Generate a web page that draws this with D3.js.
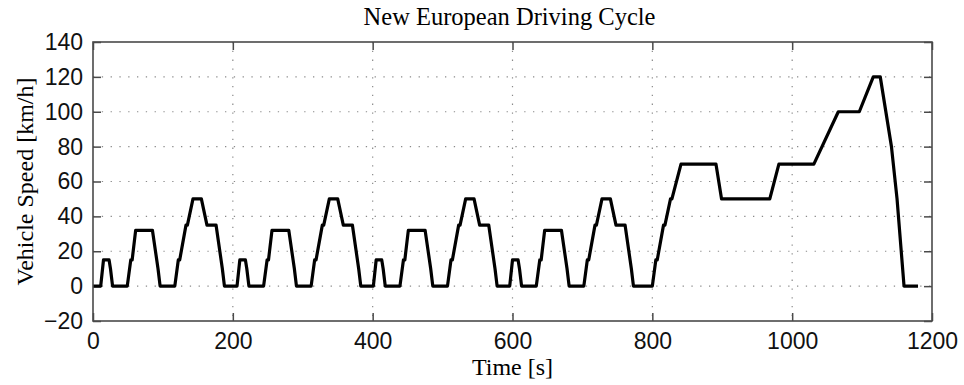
<!DOCTYPE html>
<html>
<head>
<meta charset="utf-8">
<script src="https://cdn.jsdelivr.net/npm/d3@7"></script>
<style>
  html, body { margin: 0; padding: 0; background: #fff; }
  svg { display: block; }
</style>
</head>
<body>
<svg id="chart" width="964" height="385"></svg>
<script>
// NEDC speed profile: four urban ECE-15 cycles followed by the extra-urban EUDC part
const timeS = [
  0, 11, 15, 23, 25, 28, 49, 54, 56, 61, 85, 93, 96, 117, 122, 124, 133, 135, 143, 155, 163, 176, 185, 188,
  195, 206, 210, 218, 220, 223, 244, 249, 251, 256, 280, 288, 291, 312, 317, 319, 328, 330, 338, 350, 358, 371, 380, 383,
  390, 401, 405, 413, 415, 418, 439, 444, 446, 451, 475, 483, 486, 507, 512, 514, 523, 525, 533, 545, 553, 566, 575, 578,
  585, 596, 600, 608, 610, 613, 634, 639, 641, 646, 670, 678, 681, 702, 707, 709, 718, 720, 728, 740, 748, 761, 770, 773,
  780, 800, 805, 807, 816, 818, 826, 828, 841, 891, 899, 968, 981, 1031, 1066, 1096, 1116, 1126, 1142, 1150, 1160, 1180
];
const speedKmh = [
  0, 0, 15, 15, 10, 0, 0, 15, 15, 32, 32, 10, 0, 0, 15, 15, 35, 35, 50, 50, 35, 35, 10, 0,
  0, 0, 15, 15, 10, 0, 0, 15, 15, 32, 32, 10, 0, 0, 15, 15, 35, 35, 50, 50, 35, 35, 10, 0,
  0, 0, 15, 15, 10, 0, 0, 15, 15, 32, 32, 10, 0, 0, 15, 15, 35, 35, 50, 50, 35, 35, 10, 0,
  0, 0, 15, 15, 10, 0, 0, 15, 15, 32, 32, 10, 0, 0, 15, 15, 35, 35, 50, 50, 35, 35, 10, 0,
  0, 0, 15, 15, 35, 35, 50, 50, 70, 70, 50, 50, 70, 70, 100, 100, 120, 120, 80, 50, 0, 0
];
const xTicks = [0, 200, 400, 600, 800, 1000, 1200];
const yTicks = [-20, 0, 20, 40, 60, 80, 100, 120, 140];

const W = 964, H = 385;
const margin = { top: 42, right: 32, bottom: 64, left: 93 };
const iw = W - margin.left - margin.right;
const ih = H - margin.top - margin.bottom;

const svg = d3.select("#chart");
const g = svg.append("g").attr("transform", `translate(${margin.left},${margin.top})`);

const x = d3.scaleLinear().domain([0, 1200]).range([0, iw]);
const y = d3.scaleLinear().domain([-20, 140]).range([ih, 0]);

const frameColor = "#4a4a4a";
const tickFont = "'Liberation Sans', Arial, Helvetica, sans-serif";
const serifFont = "'Liberation Serif', 'Times New Roman', Times, serif";

// dotted grid
g.append("g").selectAll("line.vg")
  .data(xTicks.filter(d => d > 0 && d < 1200))
  .join("line")
  .attr("x1", d => x(d)).attr("x2", d => x(d))
  .attr("y1", 0).attr("y2", ih)
  .attr("stroke", "#8a8a8a").attr("stroke-width", 1.2)
  .attr("stroke-dasharray", "1.3 7.5");
g.append("g").selectAll("line.hg")
  .data(yTicks.filter(d => d > -20 && d < 140))
  .join("line")
  .attr("x1", 0).attr("x2", iw)
  .attr("y1", d => y(d)).attr("y2", d => y(d))
  .attr("stroke", "#8a8a8a").attr("stroke-width", 1.2)
  .attr("stroke-dasharray", "1.3 7.5");

// axes with inward ticks on all four sides
const tickLen = 8;
const axB = g.append("g").attr("transform", `translate(0,${ih})`)
  .call(d3.axisBottom(x).tickValues(xTicks).tickSizeInner(-tickLen).tickSizeOuter(0).tickPadding(12)
    .tickFormat(d3.format("d")));
const axT = g.append("g")
  .call(d3.axisTop(x).tickValues(xTicks).tickSizeInner(-tickLen).tickSizeOuter(0).tickFormat(""));
const axL = g.append("g")
  .call(d3.axisLeft(y).tickValues(yTicks).tickSizeInner(-tickLen).tickSizeOuter(0).tickPadding(10)
    .tickFormat(d => d < 0 ? "\u2212" + Math.abs(d) : String(d)));
const axR = g.append("g").attr("transform", `translate(${iw},0)`)
  .call(d3.axisRight(y).tickValues(yTicks).tickSizeInner(-tickLen).tickSizeOuter(0).tickFormat(""));

[axB, axT, axL, axR].forEach(a => {
  a.select(".domain").remove();
  a.selectAll(".tick line").attr("stroke", frameColor).attr("stroke-width", 1.5);
  a.selectAll(".tick text").attr("fill", "#111")
    .style("font-family", tickFont).style("font-size", "23px");
});

// speed trace
const line = d3.line().x(d => x(d[0])).y(d => y(d[1]));
g.append("path")
  .datum(d3.zip(timeS, speedKmh))
  .attr("d", line)
  .attr("fill", "none")
  .attr("stroke", "#000")
  .attr("stroke-width", 3.2)
  .attr("stroke-linejoin", "round");

// plot frame
g.append("rect")
  .attr("x", 0).attr("y", 0).attr("width", iw).attr("height", ih)
  .attr("fill", "none").attr("stroke", frameColor).attr("stroke-width", 1.6);

// title and axis labels
svg.append("text")
  .attr("x", margin.left + iw / 2 - 3).attr("y", 25)
  .attr("text-anchor", "middle")
  .style("font-family", serifFont).style("font-size", "24.5px").attr("fill", "#000")
  .text("New European Driving Cycle");

svg.append("text")
  .attr("x", margin.left + iw / 2).attr("y", 375)
  .attr("text-anchor", "middle")
  .style("font-family", serifFont).style("font-size", "24px").attr("fill", "#000")
  .text("Time [s]");

svg.append("text")
  .attr("transform", `translate(33,${margin.top + ih / 2}) rotate(-90)`)
  .attr("text-anchor", "middle")
  .style("font-family", serifFont).style("font-size", "24px").attr("fill", "#000")
  .text("Vehicle Speed [km/h]");
</script>
</body>
</html>
